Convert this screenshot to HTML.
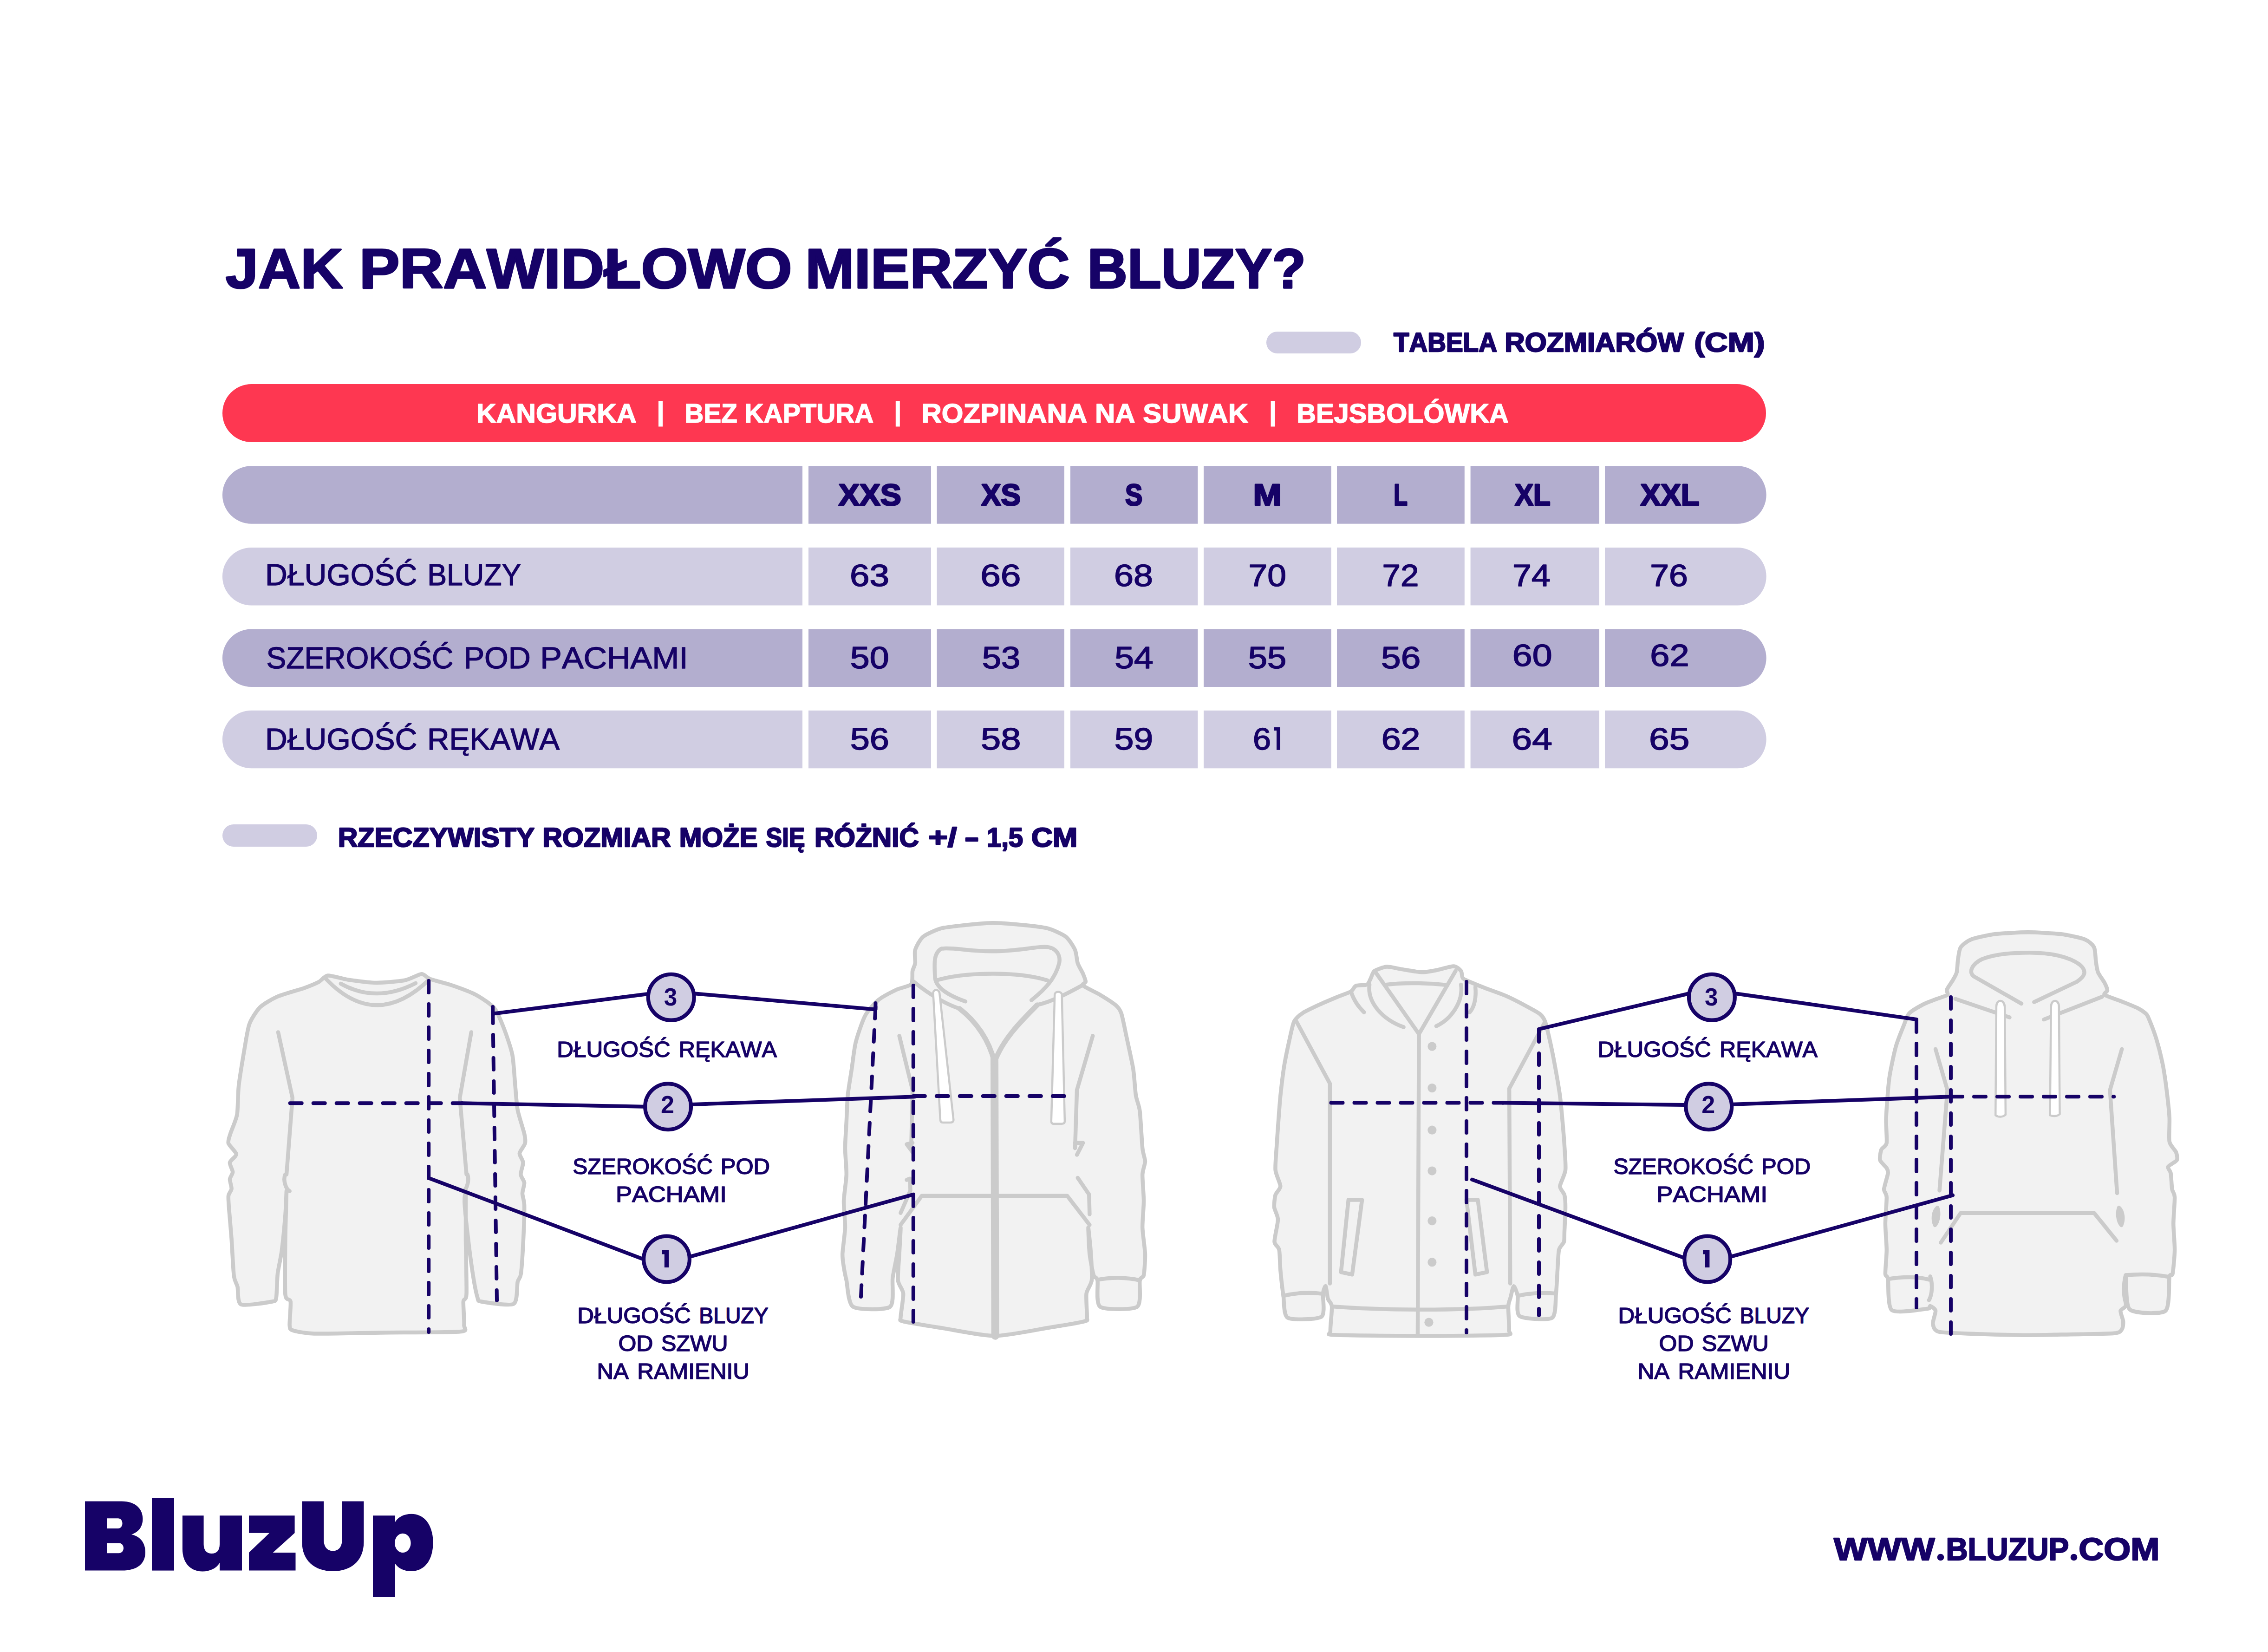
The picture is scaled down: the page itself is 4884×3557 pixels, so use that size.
<!DOCTYPE html>
<html><head><meta charset="utf-8"><title>Jak prawidłowo mierzyć bluzy</title>
<style>
html,body{margin:0;padding:0;background:#fff;}
body{width:4884px;height:3557px;overflow:hidden;}
svg{display:block;}
text{font-family:"Liberation Sans",sans-serif;font-kerning:none;}
</style></head><body>
<svg width="4884" height="3557" viewBox="0 0 4884 3557">
<rect width="4884" height="3557" fill="#ffffff"/>
<text x="485.84" y="620.25" font-size="121.37" textLength="252.58" lengthAdjust="spacingAndGlyphs" fill="#160267" font-weight="bold" stroke="#160267" stroke-width="3.50" stroke-linejoin="round">JAK</text>
<text x="773.65" y="620.25" font-size="121.37" textLength="932.06" lengthAdjust="spacingAndGlyphs" fill="#160267" font-weight="bold" stroke="#160267" stroke-width="3.50" stroke-linejoin="round">PRAWIDŁOWO</text>
<text x="1734.29" y="620.25" font-size="121.37" textLength="569.42" lengthAdjust="spacingAndGlyphs" fill="#160267" font-weight="bold" stroke="#160267" stroke-width="3.50" stroke-linejoin="round">MIERZYĆ</text>
<text x="2341.77" y="620.25" font-size="121.37" textLength="470.35" lengthAdjust="spacingAndGlyphs" fill="#160267" font-weight="bold" stroke="#160267" stroke-width="3.50" stroke-linejoin="round">BLUZY?</text>
<rect x="2727" y="714" width="204" height="47" rx="23.5" fill="#d0cde2"/>
<text x="3001.03" y="757.25" font-size="57.12" textLength="222.87" lengthAdjust="spacingAndGlyphs" fill="#160267" font-weight="bold" stroke="#160267" stroke-width="2.50" stroke-linejoin="round">TABELA</text>
<text x="3240.21" y="757.25" font-size="57.12" textLength="386.00" lengthAdjust="spacingAndGlyphs" fill="#160267" font-weight="bold" stroke="#160267" stroke-width="2.50" stroke-linejoin="round">ROZMIARÓW</text>
<text x="3648.23" y="757.25" font-size="57.12" textLength="152.44" lengthAdjust="spacingAndGlyphs" fill="#160267" font-weight="bold" stroke="#160267" stroke-width="2.50" stroke-linejoin="round">(CM)</text>
<rect x="479" y="827" width="3324" height="125" rx="62.5" fill="#fe3751"/>
<text x="1025.90" y="910.05" font-size="57.41" textLength="344.71" lengthAdjust="spacingAndGlyphs" fill="#ffffff" font-weight="bold" stroke="#ffffff" stroke-width="1.50" stroke-linejoin="round">KANGURKA</text>
<text x="1474.15" y="910.05" font-size="57.41" textLength="407.20" lengthAdjust="spacingAndGlyphs" fill="#ffffff" font-weight="bold" stroke="#ffffff" stroke-width="1.50" stroke-linejoin="round">BEZ KAPTURA</text>
<text x="1984.54" y="910.05" font-size="57.41" textLength="703.47" lengthAdjust="spacingAndGlyphs" fill="#ffffff" font-weight="bold" stroke="#ffffff" stroke-width="1.50" stroke-linejoin="round">ROZPINANA NA SUWAK</text>
<text x="2792.18" y="910.05" font-size="57.41" textLength="456.60" lengthAdjust="spacingAndGlyphs" fill="#ffffff" font-weight="bold" stroke="#ffffff" stroke-width="1.50" stroke-linejoin="round">BEJSBOLÓWKA</text>
<rect x="1418.0" y="864" width="9" height="54.5" fill="#ffffff"/>
<rect x="1928.8" y="864" width="9" height="54.5" fill="#ffffff"/>
<rect x="2736.6" y="864" width="9" height="54.5" fill="#ffffff"/>
<path d="M541.2 1003.2 H1728 V1127.7 H541.2 A62.25 62.25 0 0 1 541.2 1003.2 Z" fill="#b3aecf"/>
<rect x="1741.0" y="1003.2" width="264.0" height="124.5" fill="#b3aecf"/>
<rect x="2017.5" y="1003.2" width="274.5" height="124.5" fill="#b3aecf"/>
<rect x="2305.0" y="1003.2" width="274.4" height="124.5" fill="#b3aecf"/>
<rect x="2592.0" y="1003.2" width="274.7" height="124.5" fill="#b3aecf"/>
<rect x="2879.0" y="1003.2" width="274.8" height="124.5" fill="#b3aecf"/>
<rect x="3166.6" y="1003.2" width="277.4" height="124.5" fill="#b3aecf"/>
<path d="M3456.0 1003.2 H3741.4 A62.25 62.25 0 0 1 3741.4 1127.7 H3456.0 Z" fill="#b3aecf"/>
<path d="M541.2 1178.9 H1728 V1303.4 H541.2 A62.25 62.25 0 0 1 541.2 1178.9 Z" fill="#d0cde2"/>
<rect x="1741.0" y="1178.9" width="264.0" height="124.5" fill="#d0cde2"/>
<rect x="2017.5" y="1178.9" width="274.5" height="124.5" fill="#d0cde2"/>
<rect x="2305.0" y="1178.9" width="274.4" height="124.5" fill="#d0cde2"/>
<rect x="2592.0" y="1178.9" width="274.7" height="124.5" fill="#d0cde2"/>
<rect x="2879.0" y="1178.9" width="274.8" height="124.5" fill="#d0cde2"/>
<rect x="3166.6" y="1178.9" width="277.4" height="124.5" fill="#d0cde2"/>
<path d="M3456.0 1178.9 H3741.4 A62.25 62.25 0 0 1 3741.4 1303.4 H3456.0 Z" fill="#d0cde2"/>
<path d="M541.2 1354.5 H1728 V1479.0 H541.2 A62.25 62.25 0 0 1 541.2 1354.5 Z" fill="#b3aecf"/>
<rect x="1741.0" y="1354.5" width="264.0" height="124.5" fill="#b3aecf"/>
<rect x="2017.5" y="1354.5" width="274.5" height="124.5" fill="#b3aecf"/>
<rect x="2305.0" y="1354.5" width="274.4" height="124.5" fill="#b3aecf"/>
<rect x="2592.0" y="1354.5" width="274.7" height="124.5" fill="#b3aecf"/>
<rect x="2879.0" y="1354.5" width="274.8" height="124.5" fill="#b3aecf"/>
<rect x="3166.6" y="1354.5" width="277.4" height="124.5" fill="#b3aecf"/>
<path d="M3456.0 1354.5 H3741.4 A62.25 62.25 0 0 1 3741.4 1479.0 H3456.0 Z" fill="#b3aecf"/>
<path d="M541.2 1529.8 H1728 V1654.3 H541.2 A62.25 62.25 0 0 1 541.2 1529.8 Z" fill="#d0cde2"/>
<rect x="1741.0" y="1529.8" width="264.0" height="124.5" fill="#d0cde2"/>
<rect x="2017.5" y="1529.8" width="274.5" height="124.5" fill="#d0cde2"/>
<rect x="2305.0" y="1529.8" width="274.4" height="124.5" fill="#d0cde2"/>
<rect x="2592.0" y="1529.8" width="274.7" height="124.5" fill="#d0cde2"/>
<rect x="2879.0" y="1529.8" width="274.8" height="124.5" fill="#d0cde2"/>
<rect x="3166.6" y="1529.8" width="277.4" height="124.5" fill="#d0cde2"/>
<path d="M3456.0 1529.8 H3741.4 A62.25 62.25 0 0 1 3741.4 1654.3 H3456.0 Z" fill="#d0cde2"/>
<text x="1805.71" y="1087.70" font-size="64.83" textLength="135.13" lengthAdjust="spacingAndGlyphs" fill="#160267" font-weight="bold" stroke="#160267" stroke-width="3.00" stroke-linejoin="round">XXS</text>
<text x="2112.94" y="1087.70" font-size="64.83" textLength="85.05" lengthAdjust="spacingAndGlyphs" fill="#160267" font-weight="bold" stroke="#160267" stroke-width="3.00" stroke-linejoin="round">XS</text>
<text x="2422.89" y="1087.70" font-size="64.83" textLength="37.30" lengthAdjust="spacingAndGlyphs" fill="#160267" font-weight="bold" stroke="#160267" stroke-width="3.00" stroke-linejoin="round">S</text>
<text x="2698.55" y="1087.70" font-size="64.83" textLength="61.59" lengthAdjust="spacingAndGlyphs" fill="#160267" font-weight="bold" stroke="#160267" stroke-width="3.00" stroke-linejoin="round">M</text>
<text x="3001.24" y="1087.70" font-size="64.83" textLength="29.76" lengthAdjust="spacingAndGlyphs" fill="#160267" font-weight="bold" stroke="#160267" stroke-width="3.00" stroke-linejoin="round">L</text>
<text x="3261.97" y="1087.70" font-size="64.83" textLength="76.88" lengthAdjust="spacingAndGlyphs" fill="#160267" font-weight="bold" stroke="#160267" stroke-width="3.00" stroke-linejoin="round">XL</text>
<text x="3532.63" y="1087.70" font-size="64.83" textLength="126.88" lengthAdjust="spacingAndGlyphs" fill="#160267" font-weight="bold" stroke="#160267" stroke-width="3.00" stroke-linejoin="round">XXL</text>
<text x="570.92" y="1259.85" font-size="64.97" textLength="327.45" lengthAdjust="spacingAndGlyphs" fill="#160267" font-weight="normal" stroke="#160267" stroke-width="1.30" stroke-linejoin="round">DŁUGOŚĆ</text>
<text x="920.21" y="1259.85" font-size="64.97" textLength="202.12" lengthAdjust="spacingAndGlyphs" fill="#160267" font-weight="normal" stroke="#160267" stroke-width="1.30" stroke-linejoin="round">BLUZY</text>
<text x="573.44" y="1438.95" font-size="64.97" textLength="402.86" lengthAdjust="spacingAndGlyphs" fill="#160267" font-weight="normal" stroke="#160267" stroke-width="1.30" stroke-linejoin="round">SZEROKOŚĆ</text>
<text x="998.70" y="1438.95" font-size="64.97" textLength="144.03" lengthAdjust="spacingAndGlyphs" fill="#160267" font-weight="normal" stroke="#160267" stroke-width="1.30" stroke-linejoin="round">POD</text>
<text x="1163.32" y="1438.95" font-size="64.97" textLength="318.49" lengthAdjust="spacingAndGlyphs" fill="#160267" font-weight="normal" stroke="#160267" stroke-width="1.30" stroke-linejoin="round">PACHAMI</text>
<text x="570.92" y="1613.95" font-size="64.97" textLength="327.45" lengthAdjust="spacingAndGlyphs" fill="#160267" font-weight="normal" stroke="#160267" stroke-width="1.30" stroke-linejoin="round">DŁUGOŚĆ</text>
<text x="919.95" y="1613.95" font-size="64.97" textLength="285.23" lengthAdjust="spacingAndGlyphs" fill="#160267" font-weight="normal" stroke="#160267" stroke-width="1.30" stroke-linejoin="round">RĘKAWA</text>
<text x="1829.92" y="1262.20" font-size="67.44" textLength="85.04" lengthAdjust="spacingAndGlyphs" fill="#160267" font-weight="normal" stroke="#160267" stroke-width="1.60" stroke-linejoin="round">63</text>
<text x="2111.21" y="1262.20" font-size="67.44" textLength="87.34" lengthAdjust="spacingAndGlyphs" fill="#160267" font-weight="normal" stroke="#160267" stroke-width="1.60" stroke-linejoin="round">66</text>
<text x="2398.97" y="1262.20" font-size="67.44" textLength="83.91" lengthAdjust="spacingAndGlyphs" fill="#160267" font-weight="normal" stroke="#160267" stroke-width="1.60" stroke-linejoin="round">68</text>
<text x="2688.55" y="1262.20" font-size="67.44" textLength="81.41" lengthAdjust="spacingAndGlyphs" fill="#160267" font-weight="normal" stroke="#160267" stroke-width="1.60" stroke-linejoin="round">70</text>
<text x="2976.57" y="1262.20" font-size="67.44" textLength="78.79" lengthAdjust="spacingAndGlyphs" fill="#160267" font-weight="normal" stroke="#160267" stroke-width="1.60" stroke-linejoin="round">72</text>
<text x="3257.03" y="1262.20" font-size="67.44" textLength="81.83" lengthAdjust="spacingAndGlyphs" fill="#160267" font-weight="normal" stroke="#160267" stroke-width="1.60" stroke-linejoin="round">74</text>
<text x="3553.34" y="1262.20" font-size="67.44" textLength="81.58" lengthAdjust="spacingAndGlyphs" fill="#160267" font-weight="normal" stroke="#160267" stroke-width="1.60" stroke-linejoin="round">76</text>
<text x="1830.79" y="1438.70" font-size="67.44" textLength="83.76" lengthAdjust="spacingAndGlyphs" fill="#160267" font-weight="normal" stroke="#160267" stroke-width="1.60" stroke-linejoin="round">50</text>
<text x="2114.83" y="1438.70" font-size="67.44" textLength="82.53" lengthAdjust="spacingAndGlyphs" fill="#160267" font-weight="normal" stroke="#160267" stroke-width="1.60" stroke-linejoin="round">53</text>
<text x="2400.29" y="1438.70" font-size="67.44" textLength="83.51" lengthAdjust="spacingAndGlyphs" fill="#160267" font-weight="normal" stroke="#160267" stroke-width="1.60" stroke-linejoin="round">54</text>
<text x="2687.83" y="1438.70" font-size="67.44" textLength="82.48" lengthAdjust="spacingAndGlyphs" fill="#160267" font-weight="normal" stroke="#160267" stroke-width="1.60" stroke-linejoin="round">55</text>
<text x="2974.13" y="1438.70" font-size="67.44" textLength="85.24" lengthAdjust="spacingAndGlyphs" fill="#160267" font-weight="normal" stroke="#160267" stroke-width="1.60" stroke-linejoin="round">56</text>
<text x="3256.89" y="1434.20" font-size="67.44" textLength="85.72" lengthAdjust="spacingAndGlyphs" fill="#160267" font-weight="normal" stroke="#160267" stroke-width="1.60" stroke-linejoin="round">60</text>
<text x="3553.25" y="1434.20" font-size="67.44" textLength="84.37" lengthAdjust="spacingAndGlyphs" fill="#160267" font-weight="normal" stroke="#160267" stroke-width="1.60" stroke-linejoin="round">62</text>
<text x="1830.77" y="1613.70" font-size="67.44" textLength="84.15" lengthAdjust="spacingAndGlyphs" fill="#160267" font-weight="normal" stroke="#160267" stroke-width="1.60" stroke-linejoin="round">56</text>
<text x="2112.09" y="1613.70" font-size="67.44" textLength="86.38" lengthAdjust="spacingAndGlyphs" fill="#160267" font-weight="normal" stroke="#160267" stroke-width="1.60" stroke-linejoin="round">58</text>
<text x="2399.80" y="1613.70" font-size="67.44" textLength="83.35" lengthAdjust="spacingAndGlyphs" fill="#160267" font-weight="normal" stroke="#160267" stroke-width="1.60" stroke-linejoin="round">59</text>
<text x="2698.03" y="1613.70" font-size="67.44" textLength="39.05" lengthAdjust="spacingAndGlyphs" fill="#160267" font-weight="normal" stroke="#160267" stroke-width="1.60" stroke-linejoin="round">6</text>
<text x="2974.67" y="1613.70" font-size="67.44" textLength="83.93" lengthAdjust="spacingAndGlyphs" fill="#160267" font-weight="normal" stroke="#160267" stroke-width="1.60" stroke-linejoin="round">62</text>
<text x="3255.52" y="1613.70" font-size="67.44" textLength="87.28" lengthAdjust="spacingAndGlyphs" fill="#160267" font-weight="normal" stroke="#160267" stroke-width="1.60" stroke-linejoin="round">64</text>
<text x="3551.01" y="1613.70" font-size="67.44" textLength="87.39" lengthAdjust="spacingAndGlyphs" fill="#160267" font-weight="normal" stroke="#160267" stroke-width="1.60" stroke-linejoin="round">65</text>
<path d="M2743 1566.1 H2757 V1614.8 H2749 V1573 H2743 Z" fill="#160267"/>
<rect x="479" y="1775" width="204" height="48" rx="24" fill="#d0cde2"/>
<text x="727.70" y="1823.25" font-size="56.69" textLength="423.51" lengthAdjust="spacingAndGlyphs" fill="#160267" font-weight="bold" stroke="#160267" stroke-width="2.50" stroke-linejoin="round">RZECZYWISTY</text>
<text x="1168.29" y="1823.25" font-size="56.69" textLength="276.48" lengthAdjust="spacingAndGlyphs" fill="#160267" font-weight="bold" stroke="#160267" stroke-width="2.50" stroke-linejoin="round">ROZMIAR</text>
<text x="1462.85" y="1823.25" font-size="56.69" textLength="168.58" lengthAdjust="spacingAndGlyphs" fill="#160267" font-weight="bold" stroke="#160267" stroke-width="2.50" stroke-linejoin="round">MOŻE</text>
<text x="1649.55" y="1823.25" font-size="56.69" textLength="83.73" lengthAdjust="spacingAndGlyphs" fill="#160267" font-weight="bold" stroke="#160267" stroke-width="2.50" stroke-linejoin="round">SIĘ</text>
<text x="1753.92" y="1823.25" font-size="56.69" textLength="224.93" lengthAdjust="spacingAndGlyphs" fill="#160267" font-weight="bold" stroke="#160267" stroke-width="2.50" stroke-linejoin="round">RÓŻNIĆ</text>
<text x="1999.26" y="1823.25" font-size="56.69" textLength="61.39" lengthAdjust="spacingAndGlyphs" fill="#160267" font-weight="bold" stroke="#160267" stroke-width="2.50" stroke-linejoin="round">+/</text>
<text x="2076.97" y="1823.25" font-size="56.69" textLength="31.35" lengthAdjust="spacingAndGlyphs" fill="#160267" font-weight="bold" stroke="#160267" stroke-width="2.50" stroke-linejoin="round">-</text>
<text x="2124.80" y="1823.25" font-size="56.69" textLength="78.32" lengthAdjust="spacingAndGlyphs" fill="#160267" font-weight="bold" stroke="#160267" stroke-width="2.50" stroke-linejoin="round">1,5</text>
<text x="2220.83" y="1823.25" font-size="56.69" textLength="99.50" lengthAdjust="spacingAndGlyphs" fill="#160267" font-weight="bold" stroke="#160267" stroke-width="2.50" stroke-linejoin="round">CM</text>
<g transform="translate(460 2050) scale(0.514695)" stroke-linejoin="round" stroke-linecap="round">
<path d="M478 98 C492.0 96.8 536.4 111.5 560.0 115.0 C583.6 118.5 652.0 127.7 680.0 128.0 C708.0 128.3 777.8 122.2 800.0 118.0 C822.2 113.8 857.8 92.7 870.0 92.0 C882.2 91.3 889.8 106.4 905.0 112.0 C920.2 117.6 977.2 132.1 1000.0 140.0 C1022.8 147.9 1079.6 168.9 1100.0 180.0 C1120.4 191.1 1161.6 218.7 1175.0 235.0 C1188.4 251.3 1206.2 297.2 1215.0 320.0 C1223.8 342.8 1244.5 402.0 1250.0 430.0 C1255.5 458.0 1259.4 533.2 1262.0 560.0 C1264.6 586.8 1267.6 636.7 1272.0 660.0 C1276.4 683.3 1296.4 743.7 1300.0 760.0 C1303.6 776.3 1305.3 790.4 1303.0 800.0 C1300.7 809.6 1280.9 832.7 1280.0 842.0 C1279.1 851.3 1294.4 869.7 1295.0 880.0 C1295.6 890.3 1284.4 920.1 1285.0 930.0 C1285.6 939.9 1299.2 955.7 1300.0 965.0 C1300.8 974.3 1292.0 998.9 1292.0 1010.0 C1292.0 1021.1 1299.5 1037.8 1300.0 1060.0 C1300.5 1082.2 1297.6 1166.8 1296.0 1200.0 C1294.4 1233.2 1288.8 1324.0 1286.0 1345.0 C1283.2 1366.0 1275.6 1365.2 1272.0 1380.0 C1268.4 1394.8 1272.7 1462.4 1255.0 1472.0 C1237.3 1481.6 1137.6 1465.2 1120.0 1462.0 C1102.4 1458.8 1108.1 1458.1 1104.0 1445.0 C1099.9 1431.9 1089.5 1378.6 1085.0 1350.0 C1080.5 1321.4 1069.1 1235.0 1065.0 1200.0 C1060.9 1165.0 1051.2 1073.3 1050.0 1050.0 C1048.8 1026.7 1054.4 982.5 1055.0 1000.0 C1055.6 1017.5 1054.7 1149.8 1055.0 1200.0 C1055.3 1250.2 1059.2 1399.4 1058.0 1430.0 C1056.8 1460.6 1046.2 1446.8 1045.0 1462.0 C1043.8 1477.2 1049.8 1545.3 1048.0 1560.0 C1046.2 1574.7 1070.6 1584.3 1030.0 1588.0 C989.4 1591.7 771.2 1591.1 700.0 1592.0 C628.8 1592.9 463.2 1597.2 420.0 1596.0 C376.8 1594.8 341.9 1586.2 330.0 1582.0 C318.1 1577.8 318.9 1574.0 318.0 1560.0 C317.1 1546.0 324.1 1476.9 322.0 1462.0 C319.9 1447.1 302.6 1462.6 300.0 1432.0 C297.4 1401.4 299.4 1250.4 300.0 1200.0 C300.6 1149.6 305.0 1011.7 305.0 1000.0 C305.0 988.3 302.3 1070.8 300.0 1100.0 C297.7 1129.2 288.7 1221.4 285.0 1250.0 C281.3 1278.6 270.7 1322.2 268.0 1345.0 C265.3 1367.8 264.7 1431.3 262.0 1445.0 C259.3 1458.7 262.1 1458.6 245.0 1462.0 C227.8 1465.4 131.9 1481.2 115.0 1474.0 C98.1 1466.8 103.5 1413.9 100.0 1400.0 C96.5 1386.1 87.9 1378.3 85.0 1355.0 C82.1 1331.7 77.3 1232.1 75.0 1200.0 C72.7 1167.9 66.5 1101.0 65.0 1080.0 C63.5 1059.0 60.8 1030.5 62.0 1020.0 C63.2 1009.5 74.3 998.2 75.0 990.0 C75.7 981.8 67.4 958.2 68.0 950.0 C68.6 941.8 80.0 928.2 80.0 920.0 C80.0 911.8 66.2 888.8 68.0 880.0 C69.8 871.2 95.7 854.3 95.0 845.0 C94.3 835.7 64.9 809.9 62.0 800.0 C59.1 790.1 65.8 774.0 70.0 760.0 C74.2 746.0 93.9 703.3 98.0 680.0 C102.1 656.7 101.3 592.7 105.0 560.0 C108.7 527.3 124.8 430.3 130.0 400.0 C135.2 369.7 142.4 319.8 150.0 300.0 C157.6 280.2 181.0 243.4 195.0 230.0 C209.0 216.6 248.4 194.3 270.0 185.0 C291.6 175.7 360.2 157.0 380.0 150.0 C399.8 143.0 428.6 131.1 440.0 125.0 C451.4 118.9 464.0 99.2 478.0 98.0 Z" fill="#f2f2f2" stroke="#cbcbcb" stroke-width="16.51"/>
<path d="M470 112 Q680 332 905 112" fill="none" stroke="#cbcbcb" stroke-width="16.51"/>
<path d="M532 132 Q680 215 845 130" fill="none" stroke="#cbcbcb" stroke-width="16.51"/>
<path d="M270 335 L330 610 L305 930" fill="none" stroke="#cbcbcb" stroke-width="16.51"/>
<path d="M1078 335 L1030 610 L1058 930" fill="none" stroke="#cbcbcb" stroke-width="16.51"/>
<path d="M300 930 C290 950, 300 990, 318 1000" fill="none" stroke="#cbcbcb" stroke-width="16.51"/>
<path d="M1062 930 C1070 950, 1062 990, 1045 1000" fill="none" stroke="#cbcbcb" stroke-width="16.51"/>
</g>
<g transform="translate(1800 1960) scale(0.569152)" stroke-linejoin="round" stroke-linecap="round">
<path d="M285 280 C292.0 271.8 288.2 239.3 290.0 230.0 C291.8 220.7 298.8 209.3 300.0 200.0 C301.2 190.7 296.5 161.7 300.0 150.0 C303.5 138.3 318.3 109.6 330.0 100.0 C341.7 90.4 380.2 73.2 400.0 68.0 C419.8 62.8 477.2 57.3 500.0 55.0 C522.8 52.7 571.7 48.0 595.0 48.0 C618.3 48.0 676.1 52.7 700.0 55.0 C723.9 57.3 780.2 62.8 800.0 68.0 C819.8 73.2 857.8 90.4 870.0 100.0 C882.2 109.6 899.8 138.3 905.0 150.0 C910.2 161.7 911.5 189.5 915.0 200.0 C918.5 210.5 931.5 231.8 935.0 240.0 C938.5 248.2 945.0 264.8 945.0 270.0 C945.0 275.2 928.6 279.2 935.0 285.0 C941.4 290.8 985.4 311.2 1000.0 320.0 C1014.6 328.8 1050.7 351.8 1060.0 360.0 C1069.3 368.2 1075.3 376.0 1080.0 390.0 C1084.7 404.0 1094.8 455.5 1100.0 480.0 C1105.2 504.5 1120.9 574.3 1125.0 600.0 C1129.1 625.7 1132.1 681.3 1135.0 700.0 C1137.9 718.7 1147.1 736.7 1150.0 760.0 C1152.9 783.3 1157.7 877.8 1160.0 900.0 C1162.3 922.2 1170.0 938.3 1170.0 950.0 C1170.0 961.7 1160.6 982.5 1160.0 1000.0 C1159.4 1017.5 1165.0 1076.7 1165.0 1100.0 C1165.0 1123.3 1159.4 1176.7 1160.0 1200.0 C1160.6 1223.3 1169.4 1279.0 1170.0 1300.0 C1170.6 1321.0 1167.3 1368.3 1165.0 1380.0 C1162.7 1391.7 1152.9 1386.0 1150.0 1400.0 C1147.1 1414.0 1157.5 1488.3 1140.0 1500.0 C1122.5 1511.7 1017.5 1511.7 1000.0 1500.0 C982.5 1488.3 992.9 1414.0 990.0 1400.0 C987.1 1386.0 978.5 1391.7 975.0 1380.0 C971.5 1368.3 962.3 1321.0 960.0 1300.0 C957.7 1279.0 954.4 1200.0 955.0 1200.0 C955.6 1200.0 963.5 1276.7 965.0 1300.0 C966.5 1323.3 970.0 1382.5 968.0 1400.0 C966.0 1417.5 950.1 1433.7 948.0 1450.0 C945.9 1466.3 950.9 1527.8 950.0 1540.0 C949.1 1552.2 957.5 1550.3 940.0 1555.0 C922.5 1559.7 839.7 1573.6 800.0 1580.0 C760.3 1586.4 646.7 1610.0 600.0 1610.0 C553.3 1610.0 440.2 1586.4 400.0 1580.0 C359.8 1573.6 273.1 1559.7 255.0 1555.0 C236.9 1550.3 245.0 1552.2 245.0 1540.0 C245.0 1527.8 256.2 1466.3 255.0 1450.0 C253.8 1433.7 236.8 1417.5 235.0 1400.0 C233.2 1382.5 238.8 1323.3 240.0 1300.0 C241.2 1276.7 245.9 1200.0 245.0 1200.0 C244.1 1200.0 235.5 1277.8 232.0 1300.0 C228.5 1322.2 218.2 1366.7 215.0 1390.0 C211.8 1413.3 222.5 1487.2 205.0 1500.0 C187.5 1512.8 84.2 1511.7 65.0 1500.0 C45.8 1488.3 44.1 1417.5 40.0 1400.0 C35.9 1382.5 31.8 1361.7 30.0 1350.0 C28.2 1338.3 24.4 1317.5 25.0 1300.0 C25.6 1282.5 34.4 1223.3 35.0 1200.0 C35.6 1176.7 29.4 1123.3 30.0 1100.0 C30.6 1076.7 39.4 1023.3 40.0 1000.0 C40.6 976.7 35.0 923.3 35.0 900.0 C35.0 876.7 38.8 823.3 40.0 800.0 C41.2 776.7 42.7 723.3 45.0 700.0 C47.3 676.7 56.5 623.3 60.0 600.0 C63.5 576.7 69.2 523.3 75.0 500.0 C80.8 476.7 100.1 418.7 110.0 400.0 C119.9 381.3 146.0 351.7 160.0 340.0 C174.0 328.3 215.4 307.0 230.0 300.0 C244.6 293.0 278.0 288.2 285.0 280.0 Z" fill="#f2f2f2" stroke="#cbcbcb" stroke-width="14.93"/>
<path d="M490 345 C420 320, 375 290, 375 250 C372 200, 370 160, 400 145 C450 140, 500 155, 590 155 C680 155, 740 140, 790 138 C840 140, 850 175, 845 200 C830 260, 790 300, 740 340" fill="none" stroke="#cbcbcb" stroke-width="14.93"/>
<path d="M380 265 C450 245, 520 240, 595 240 C680 240, 750 250, 800 265" fill="none" stroke="#cbcbcb" stroke-width="14.93"/>
<path d="M245 1190 L325 1080 L875 1080 L960 1190" fill="none" stroke="#cbcbcb" stroke-width="14.93"/>
<path d="M240 475 L290 680 L285 900" fill="none" stroke="#cbcbcb" stroke-width="14.93"/>
<path d="M972 475 L912 680 L905 900" fill="none" stroke="#cbcbcb" stroke-width="14.93"/>
<path d="M290 880 L268 885 L290 915" fill="none" stroke="#cbcbcb" stroke-width="14.93"/>
<path d="M905 880 L935 880 L912 925" fill="none" stroke="#cbcbcb" stroke-width="14.93"/>
<path d="M268 1020 L280 1015 L282 1060 L245 1145" fill="none" stroke="#cbcbcb" stroke-width="14.93"/>
<path d="M915 1012 L958 1075 L960 1150" fill="none" stroke="#cbcbcb" stroke-width="14.93"/>
<path d="M990 1398 C1040 1388, 1100 1388, 1150 1400" fill="none" stroke="#cbcbcb" stroke-width="14.93"/>
<path d="M292 268 C330 300, 400 350, 468 372" fill="none" stroke="#cbcbcb" stroke-width="14.93"/>
<path d="M928 286 C880 312, 820 345, 762 358" fill="none" stroke="#cbcbcb" stroke-width="14.93"/>
<path d="M368 312 C370 298, 388 298, 392 312 L445 792 C446 800, 440 803, 432 803 L405 803 C398 803, 395 798, 395 790 Z" fill="#ffffff" stroke="#cbcbcb" stroke-width="7.91"/>
<path d="M828 318 C830 305, 852 305, 855 318 L866 798 C866 806, 860 808, 852 808 L825 808 C818 808, 815 804, 815 798 Z" fill="#ffffff" stroke="#cbcbcb" stroke-width="7.91"/>
</g>
<g transform="translate(1800 1960) scale(0.569152)"><path d="M600 560 L603 1610" stroke="#cbcbcb" stroke-width="29.9" stroke-linecap="round" fill="none"/><path d="M468 372 C530 420, 580 490, 600 575 M762 358 C700 420, 630 490, 600 575" stroke="#cbcbcb" stroke-width="19.3" stroke-linecap="round" fill="none"/></g>
<g transform="translate(2720 2040) scale(0.532765)" stroke-linejoin="round" stroke-linecap="round">
<path d="M450 95 C457.6 89.5 487.2 78.8 500.0 78.0 C512.8 77.2 543.7 85.4 560.0 88.0 C576.3 90.6 623.7 99.5 640.0 100.0 C656.3 100.5 684.8 94.8 700.0 92.0 C715.2 89.2 758.3 75.7 770.0 76.0 C781.7 76.3 795.6 89.3 800.0 95.0 C804.4 100.7 802.2 119.2 808.0 125.0 C813.8 130.8 839.3 140.3 850.0 145.0 C860.7 149.7 884.8 159.2 900.0 165.0 C915.2 170.8 961.3 186.8 980.0 195.0 C998.7 203.2 1043.7 226.2 1060.0 235.0 C1076.3 243.8 1110.7 262.4 1120.0 270.0 C1129.3 277.6 1135.3 287.2 1140.0 300.0 C1144.7 312.8 1155.3 359.0 1160.0 380.0 C1164.7 401.0 1175.3 454.3 1180.0 480.0 C1184.7 505.7 1196.5 574.3 1200.0 600.0 C1203.5 625.7 1207.9 676.7 1210.0 700.0 C1212.1 723.3 1216.6 776.7 1218.0 800.0 C1219.4 823.3 1224.1 880.8 1222.0 900.0 C1219.9 919.2 1200.5 953.3 1200.0 965.0 C1199.5 976.7 1215.4 990.1 1218.0 1000.0 C1220.6 1009.9 1222.0 1032.5 1222.0 1050.0 C1222.0 1067.5 1218.7 1133.7 1218.0 1150.0 C1217.3 1166.3 1218.6 1181.6 1216.0 1190.0 C1213.4 1198.4 1199.0 1208.7 1196.0 1222.0 C1193.0 1235.3 1191.4 1283.3 1190.0 1304.0 C1188.6 1324.7 1186.6 1376.5 1184.0 1399.0 C1181.4 1421.5 1185.2 1486.4 1168.0 1497.0 C1150.8 1507.6 1053.2 1500.4 1037.0 1490.0 C1020.8 1479.6 1031.8 1422.1 1029.0 1408.0 C1026.2 1393.9 1016.4 1368.2 1013.0 1369.0 C1009.6 1369.8 1002.6 1405.4 1000.0 1415.0 C997.4 1424.6 991.7 1435.6 991.0 1451.0 C990.3 1466.4 995.9 1533.6 994.0 1547.0 C992.1 1560.4 1017.5 1563.3 975.0 1566.0 C932.5 1568.7 709.9 1570.0 630.0 1570.0 C550.1 1570.0 331.8 1568.3 290.0 1566.0 C248.2 1563.7 273.4 1563.4 272.0 1550.0 C270.6 1536.6 279.2 1466.2 278.0 1451.0 C276.8 1435.8 264.9 1429.6 262.0 1420.0 C259.1 1410.4 255.3 1371.6 253.0 1369.0 C250.7 1366.4 244.0 1383.7 242.0 1398.0 C240.0 1412.3 252.6 1480.5 236.0 1492.0 C219.4 1503.5 118.0 1506.8 100.0 1497.0 C82.0 1487.2 85.5 1430.5 82.0 1408.0 C78.5 1385.5 72.0 1325.7 70.0 1304.0 C68.0 1282.3 67.8 1235.4 65.0 1222.0 C62.2 1208.6 46.6 1203.2 46.0 1189.0 C45.4 1174.8 60.1 1116.2 60.0 1100.0 C59.9 1083.8 46.2 1061.7 45.0 1050.0 C43.8 1038.3 47.1 1009.9 50.0 1000.0 C52.9 990.1 70.0 976.7 70.0 965.0 C70.0 953.3 51.8 919.2 50.0 900.0 C48.2 880.8 53.6 823.3 55.0 800.0 C56.4 776.7 60.2 723.3 62.0 700.0 C63.8 676.7 67.3 625.7 70.0 600.0 C72.7 574.3 80.9 505.7 85.0 480.0 C89.1 454.3 100.3 401.0 105.0 380.0 C109.7 359.0 118.6 313.4 125.0 300.0 C131.4 286.6 147.8 273.2 160.0 265.0 C172.2 256.8 213.7 237.6 230.0 230.0 C246.3 222.4 285.4 206.1 300.0 200.0 C314.6 193.9 346.2 183.2 355.0 178.0 C363.8 172.8 367.4 158.3 375.0 155.0 C382.6 151.7 413.0 153.5 420.0 150.0 C427.0 146.5 431.5 131.4 435.0 125.0 C438.5 118.6 442.4 100.5 450.0 95.0 Z" fill="#f2f2f2" stroke="#cbcbcb" stroke-width="15.95"/>
<path d="M458 105 L630 350 L778 95" fill="none" stroke="#cbcbcb" stroke-width="15.95"/>
<path d="M500 150 C580 140, 680 145, 745 152" fill="none" stroke="#cbcbcb" stroke-width="15.95"/>
<path d="M430 150 C420 220, 480 290, 568 322" fill="none" stroke="#cbcbcb" stroke-width="15.95"/>
<path d="M800 150 C810 220, 760 290, 700 318" fill="none" stroke="#cbcbcb" stroke-width="15.95"/>
<path d="M355 178 C365 210, 385 240, 408 262" fill="none" stroke="#cbcbcb" stroke-width="15.95"/>
<path d="M858 160 C862 200, 855 240, 835 262" fill="none" stroke="#cbcbcb" stroke-width="15.95"/>
<path d="M630 352 L625 1568" fill="none" stroke="#cbcbcb" stroke-width="15.95"/>
<path d="M135 300 L270 550 L270 1358" fill="none" stroke="#cbcbcb" stroke-width="15.95"/>
<path d="M1140 300 L995 570 L999 1358" fill="none" stroke="#cbcbcb" stroke-width="15.95"/>
<path d="M278 1451 C500 1468, 800 1468, 991 1451" fill="none" stroke="#cbcbcb" stroke-width="15.95"/>
<path d="M82 1408 C130 1396, 190 1392, 242 1400" fill="none" stroke="#cbcbcb" stroke-width="15.95"/>
<path d="M1029 1408 C1080 1396, 1140 1394, 1184 1399" fill="none" stroke="#cbcbcb" stroke-width="15.95"/>
<path d="M345 1020 L400 1020 L360 1322 L315 1312 Z" fill="none" stroke="#cbcbcb" stroke-width="15.95"/>
<path d="M822 1020 L868 1020 L905 1312 L858 1322 Z" fill="none" stroke="#cbcbcb" stroke-width="15.95"/>
</g>
<g transform="translate(2720 2040) scale(0.532765)"><circle cx="683" cy="400" r="18" fill="#cbcbcb"/><circle cx="683" cy="568" r="18" fill="#cbcbcb"/><circle cx="683" cy="738" r="18" fill="#cbcbcb"/><circle cx="683" cy="903" r="18" fill="#cbcbcb"/><circle cx="683" cy="1105" r="18" fill="#cbcbcb"/><circle cx="683" cy="1272" r="18" fill="#cbcbcb"/><circle cx="670" cy="1515" r="18" fill="#cbcbcb"/></g>
<g transform="translate(4040 1980) scale(0.569152)" stroke-linejoin="round" stroke-linecap="round">
<path d="M270 285 C274.4 280.9 265.7 271.4 268.0 265.0 C270.3 258.6 285.7 237.6 290.0 230.0 C294.3 222.4 302.7 209.3 305.0 200.0 C307.3 190.7 308.2 161.1 310.0 150.0 C311.8 138.9 314.2 113.8 320.0 105.0 C325.8 96.2 344.8 80.8 360.0 75.0 C375.2 69.2 424.9 58.1 450.0 55.0 C475.1 51.9 545.8 48.0 575.0 48.0 C604.2 48.0 674.9 51.9 700.0 55.0 C725.1 58.1 775.4 69.2 790.0 75.0 C804.6 80.8 820.1 95.1 825.0 105.0 C829.9 114.9 830.2 148.9 832.0 160.0 C833.8 171.1 836.1 190.7 840.0 200.0 C843.9 209.3 860.9 232.1 865.0 240.0 C869.1 247.9 875.0 262.8 875.0 268.0 C875.0 273.2 858.6 280.1 865.0 285.0 C871.4 289.9 915.4 304.2 930.0 310.0 C944.6 315.8 979.5 329.8 990.0 335.0 C1000.5 340.2 1015.3 350.9 1020.0 355.0 C1024.7 359.1 1025.3 358.9 1030.0 370.0 C1034.7 381.1 1053.6 429.0 1060.0 450.0 C1066.4 471.0 1080.3 526.7 1085.0 550.0 C1089.7 573.3 1097.1 626.7 1100.0 650.0 C1102.9 673.3 1108.8 727.8 1110.0 750.0 C1111.2 772.2 1107.1 824.8 1110.0 840.0 C1112.9 855.2 1131.7 871.8 1135.0 880.0 C1138.3 888.2 1141.5 903.6 1138.0 910.0 C1134.5 916.4 1107.7 929.2 1105.0 935.0 C1102.3 940.8 1113.2 950.1 1115.0 960.0 C1116.8 969.9 1118.2 1009.5 1120.0 1020.0 C1121.8 1030.5 1129.4 1034.8 1130.0 1050.0 C1130.6 1065.2 1125.0 1126.7 1125.0 1150.0 C1125.0 1173.3 1130.3 1227.8 1130.0 1250.0 C1129.7 1272.2 1124.3 1328.1 1122.0 1340.0 C1119.7 1351.9 1113.2 1335.7 1110.0 1352.0 C1106.8 1368.3 1112.5 1465.7 1095.0 1480.0 C1077.5 1494.3 977.5 1490.4 960.0 1475.0 C942.5 1459.6 947.3 1356.8 945.0 1348.0 C942.7 1339.2 940.0 1386.9 940.0 1400.0 C940.0 1413.1 946.8 1450.7 945.0 1460.0 C943.2 1469.3 926.2 1473.0 925.0 1480.0 C923.8 1487.0 934.4 1511.8 935.0 1520.0 C935.6 1528.2 934.1 1544.8 930.0 1550.0 C925.9 1555.2 926.8 1562.7 900.0 1565.0 C873.2 1567.3 737.9 1569.2 700.0 1570.0 C662.1 1570.8 610.0 1572.2 575.0 1572.0 C540.0 1571.8 439.1 1569.4 400.0 1568.0 C360.9 1566.6 261.6 1564.4 240.0 1560.0 C218.4 1555.6 216.8 1539.3 215.0 1530.0 C213.2 1520.7 226.2 1487.9 225.0 1480.0 C223.8 1472.1 208.5 1462.9 205.0 1462.0 C201.5 1461.1 211.9 1470.1 195.0 1472.0 C178.1 1473.9 77.5 1491.1 60.0 1478.0 C42.5 1464.9 47.9 1376.1 45.0 1360.0 C42.1 1343.9 35.6 1352.8 35.0 1340.0 C34.4 1327.2 40.0 1272.2 40.0 1250.0 C40.0 1227.8 35.0 1173.3 35.0 1150.0 C35.0 1126.7 40.6 1065.2 40.0 1050.0 C39.4 1034.8 29.4 1030.5 30.0 1020.0 C30.6 1009.5 43.8 969.3 45.0 960.0 C46.2 950.7 43.5 945.8 40.0 940.0 C36.5 934.2 17.3 918.2 15.0 910.0 C12.7 901.8 17.1 877.6 20.0 870.0 C22.9 862.4 37.9 859.0 40.0 845.0 C42.1 831.0 36.8 778.6 38.0 750.0 C39.2 721.4 45.7 631.5 50.0 600.0 C54.3 568.5 68.6 503.3 75.0 480.0 C81.4 456.7 99.2 414.6 105.0 400.0 C110.8 385.4 116.2 364.3 125.0 355.0 C133.8 345.7 167.8 326.4 180.0 320.0 C192.2 313.6 219.5 304.1 230.0 300.0 C240.5 295.9 265.6 289.1 270.0 285.0 Z" fill="#f2f2f2" stroke="#cbcbcb" stroke-width="14.93"/>
<path d="M550 318 L370 215 C350 200, 360 170, 400 150 C450 130, 520 125, 580 125 C660 125, 730 140, 770 170 C800 195, 790 215, 760 235 L598 312" fill="none" stroke="#cbcbcb" stroke-width="14.93"/>
<path d="M300 300 L505 370" fill="none" stroke="#cbcbcb" stroke-width="14.93"/>
<path d="M635 378 L855 292" fill="none" stroke="#cbcbcb" stroke-width="14.93"/>
<path d="M225 490 L270 645 L240 1025" fill="none" stroke="#cbcbcb" stroke-width="14.93"/>
<path d="M930 490 L885 645 L912 1035" fill="none" stroke="#cbcbcb" stroke-width="14.93"/>
<path d="M245 1222 L320 1110 L825 1110 L910 1215" fill="none" stroke="#cbcbcb" stroke-width="14.93"/>
<path d="M45 1360 C100 1350, 160 1350, 200 1362" fill="none" stroke="#cbcbcb" stroke-width="14.93"/>
<path d="M945 1345 C1000 1340, 1060 1342, 1110 1352" fill="none" stroke="#cbcbcb" stroke-width="14.93"/>
<path d="M205 1350 C215 1380, 212 1420, 200 1440" fill="none" stroke="#cbcbcb" stroke-width="14.93"/>
<path d="M945 1345 C935 1380, 935 1420, 945 1450" fill="none" stroke="#cbcbcb" stroke-width="14.93"/>
<path d="M232 1090 C216 1105, 214 1135, 223 1156 C236 1140, 239 1110, 232 1090 Z" fill="#cbcbcb" stroke="#cbcbcb" stroke-width="14.93"/>
<path d="M919 1090 C935 1105, 937 1135, 928 1156 C915 1140, 912 1110, 919 1090 Z" fill="#cbcbcb" stroke="#cbcbcb" stroke-width="14.93"/>
<path d="M455 330 C455 300, 485 300, 487 330 L490 738 C480 748, 462 748, 452 740 Z" fill="#ffffff" stroke="#cbcbcb" stroke-width="7.91"/>
<path d="M662 330 C662 300, 692 300, 692 330 L695 736 C685 745, 668 745, 658 740 Z" fill="#ffffff" stroke="#cbcbcb" stroke-width="7.91"/>
</g>
<line x1="923.2" y1="2112.0" x2="923.2" y2="2868.0" stroke="#160267" stroke-width="8" stroke-linecap="round" stroke-dasharray="25 25"/>
<line x1="1061.2" y1="2178.0" x2="1070.0" y2="2800.0" stroke="#160267" stroke-width="8" stroke-linecap="round" stroke-dasharray="25 25"/>
<line x1="624.7" y1="2375.3" x2="995.0" y2="2375.3" stroke="#160267" stroke-width="8" stroke-linecap="round" stroke-dasharray="25 25"/>
<line x1="1966.8" y1="2122.0" x2="1966.8" y2="2846.0" stroke="#160267" stroke-width="8" stroke-linecap="round" stroke-dasharray="25 25"/>
<line x1="1885.4" y1="2168.0" x2="1854.0" y2="2792.0" stroke="#160267" stroke-width="8" stroke-linecap="round" stroke-dasharray="25 25"/>
<line x1="1966.8" y1="2360.0" x2="2303.7" y2="2360.0" stroke="#160267" stroke-width="8" stroke-linecap="round" stroke-dasharray="25 25"/>
<line x1="3158.0" y1="2114.0" x2="3158.0" y2="2869.0" stroke="#160267" stroke-width="8" stroke-linecap="round" stroke-dasharray="25 25"/>
<line x1="3314.0" y1="2218.0" x2="3314.0" y2="2832.0" stroke="#160267" stroke-width="8" stroke-linecap="round" stroke-dasharray="25 25"/>
<line x1="2866.5" y1="2374.6" x2="3236.8" y2="2374.6" stroke="#160267" stroke-width="8" stroke-linecap="round" stroke-dasharray="25 25"/>
<line x1="4201.0" y1="2147.0" x2="4201.0" y2="2872.0" stroke="#160267" stroke-width="8" stroke-linecap="round" stroke-dasharray="25 25"/>
<line x1="4127.0" y1="2197.0" x2="4127.0" y2="2815.0" stroke="#160267" stroke-width="8" stroke-linecap="round" stroke-dasharray="25 25"/>
<line x1="4201.0" y1="2361.3" x2="4552.2" y2="2361.3" stroke="#160267" stroke-width="8" stroke-linecap="round" stroke-dasharray="25 25"/>
<polyline points="1061.2,2168.0 1061.2,2182.8 1392.0,2140.5" fill="none" stroke="#160267" stroke-width="8" stroke-linecap="round" stroke-linejoin="round"/>
<polyline points="1498.0,2139.5 1885.4,2173.4 1885.4,2160.0" fill="none" stroke="#160267" stroke-width="8" stroke-linecap="round" stroke-linejoin="round"/>
<polyline points="995.3,2375.3 1386.0,2382.8" fill="none" stroke="#160267" stroke-width="8" stroke-linecap="round" stroke-linejoin="round"/>
<polyline points="1491.0,2378.0 1970.7,2361.2" fill="none" stroke="#160267" stroke-width="8" stroke-linecap="round" stroke-linejoin="round"/>
<polyline points="923.2,2536.4 1386.0,2711.4" fill="none" stroke="#160267" stroke-width="8" stroke-linecap="round" stroke-linejoin="round"/>
<polyline points="1486.5,2705.7 1966.8,2571.8" fill="none" stroke="#160267" stroke-width="8" stroke-linecap="round" stroke-linejoin="round"/>
<polyline points="3314.0,2215.8 3636.0,2139.5" fill="none" stroke="#160267" stroke-width="8" stroke-linecap="round" stroke-linejoin="round"/>
<polyline points="3739.3,2139.5 4127.0,2195.0" fill="none" stroke="#160267" stroke-width="8" stroke-linecap="round" stroke-linejoin="round"/>
<polyline points="3236.8,2374.6 3627.0,2379.0" fill="none" stroke="#160267" stroke-width="8" stroke-linecap="round" stroke-linejoin="round"/>
<polyline points="3732.4,2377.8 4201.0,2361.3" fill="none" stroke="#160267" stroke-width="8" stroke-linecap="round" stroke-linejoin="round"/>
<polyline points="3170.0,2539.7 3627.0,2708.5" fill="none" stroke="#160267" stroke-width="8" stroke-linecap="round" stroke-linejoin="round"/>
<polyline points="3727.8,2705.7 4205.0,2573.6" fill="none" stroke="#160267" stroke-width="8" stroke-linecap="round" stroke-linejoin="round"/>
<circle cx="1445.2" cy="2147.3" r="49.4" fill="#d0cde2" stroke="#160267" stroke-width="8.2"/>
<text x="1429.82" y="2165.20" font-size="54.36" textLength="28.53" lengthAdjust="spacingAndGlyphs" fill="#160267" font-weight="bold">3</text>
<circle cx="1438.6" cy="2382.7" r="49.4" fill="#d0cde2" stroke="#160267" stroke-width="8.2"/>
<text x="1423.09" y="2396.70" font-size="54.22" textLength="28.99" lengthAdjust="spacingAndGlyphs" fill="#160267" font-weight="bold">2</text>
<circle cx="1435.5" cy="2711.0" r="49.4" fill="#d0cde2" stroke="#160267" stroke-width="8.2"/>
<path d="M1426.0 2692.1 H1440.2 V2729.0 H1430.8 V2700.5 H1426.0 Z" fill="#160267"/>
<text x="1199.25" y="2275.80" font-size="47.97" textLength="244.33" lengthAdjust="spacingAndGlyphs" fill="#160267" font-weight="normal" stroke="#160267" stroke-width="1.60" stroke-linejoin="round">DŁUGOŚĆ</text>
<text x="1461.80" y="2275.80" font-size="47.97" textLength="211.09" lengthAdjust="spacingAndGlyphs" fill="#160267" font-weight="normal" stroke="#160267" stroke-width="1.60" stroke-linejoin="round">RĘKAWA</text>
<text x="1233.22" y="2528.30" font-size="47.97" textLength="301.81" lengthAdjust="spacingAndGlyphs" fill="#160267" font-weight="normal" stroke="#160267" stroke-width="1.60" stroke-linejoin="round">SZEROKOŚĆ</text>
<text x="1551.78" y="2528.30" font-size="47.97" textLength="106.27" lengthAdjust="spacingAndGlyphs" fill="#160267" font-weight="normal" stroke="#160267" stroke-width="1.60" stroke-linejoin="round">POD</text>
<text x="1326.00" y="2588.30" font-size="47.97" textLength="238.84" lengthAdjust="spacingAndGlyphs" fill="#160267" font-weight="normal" stroke="#160267" stroke-width="1.60" stroke-linejoin="round">PACHAMI</text>
<text x="1243.35" y="2848.90" font-size="47.97" textLength="244.33" lengthAdjust="spacingAndGlyphs" fill="#160267" font-weight="normal" stroke="#160267" stroke-width="1.60" stroke-linejoin="round">DŁUGOŚĆ</text>
<text x="1505.30" y="2848.90" font-size="47.97" textLength="149.42" lengthAdjust="spacingAndGlyphs" fill="#160267" font-weight="normal" stroke="#160267" stroke-width="1.60" stroke-linejoin="round">BLUZY</text>
<text x="1331.43" y="2909.20" font-size="47.97" textLength="74.96" lengthAdjust="spacingAndGlyphs" fill="#160267" font-weight="normal" stroke="#160267" stroke-width="1.60" stroke-linejoin="round">OD</text>
<text x="1423.68" y="2909.20" font-size="47.97" textLength="143.99" lengthAdjust="spacingAndGlyphs" fill="#160267" font-weight="normal" stroke="#160267" stroke-width="1.60" stroke-linejoin="round">SZWU</text>
<text x="1285.56" y="2969.20" font-size="47.97" textLength="68.44" lengthAdjust="spacingAndGlyphs" fill="#160267" font-weight="normal" stroke="#160267" stroke-width="1.60" stroke-linejoin="round">NA</text>
<text x="1372.35" y="2969.20" font-size="47.97" textLength="241.67" lengthAdjust="spacingAndGlyphs" fill="#160267" font-weight="normal" stroke="#160267" stroke-width="1.60" stroke-linejoin="round">RAMIENIU</text>
<circle cx="3686.4" cy="2147.3" r="49.4" fill="#d0cde2" stroke="#160267" stroke-width="8.2"/>
<text x="3671.02" y="2165.20" font-size="54.36" textLength="28.53" lengthAdjust="spacingAndGlyphs" fill="#160267" font-weight="bold">3</text>
<circle cx="3679.8" cy="2382.7" r="49.4" fill="#d0cde2" stroke="#160267" stroke-width="8.2"/>
<text x="3664.29" y="2396.70" font-size="54.22" textLength="28.99" lengthAdjust="spacingAndGlyphs" fill="#160267" font-weight="bold">2</text>
<circle cx="3676.7" cy="2711.0" r="49.4" fill="#d0cde2" stroke="#160267" stroke-width="8.2"/>
<path d="M3667.2 2692.1 H3681.4 V2729.0 H3672.0 V2700.5 H3667.2 Z" fill="#160267"/>
<text x="3440.45" y="2275.80" font-size="47.97" textLength="244.33" lengthAdjust="spacingAndGlyphs" fill="#160267" font-weight="normal" stroke="#160267" stroke-width="1.60" stroke-linejoin="round">DŁUGOŚĆ</text>
<text x="3703.00" y="2275.80" font-size="47.97" textLength="211.09" lengthAdjust="spacingAndGlyphs" fill="#160267" font-weight="normal" stroke="#160267" stroke-width="1.60" stroke-linejoin="round">RĘKAWA</text>
<text x="3474.42" y="2528.30" font-size="47.97" textLength="301.81" lengthAdjust="spacingAndGlyphs" fill="#160267" font-weight="normal" stroke="#160267" stroke-width="1.60" stroke-linejoin="round">SZEROKOŚĆ</text>
<text x="3792.98" y="2528.30" font-size="47.97" textLength="106.27" lengthAdjust="spacingAndGlyphs" fill="#160267" font-weight="normal" stroke="#160267" stroke-width="1.60" stroke-linejoin="round">POD</text>
<text x="3567.20" y="2588.30" font-size="47.97" textLength="238.84" lengthAdjust="spacingAndGlyphs" fill="#160267" font-weight="normal" stroke="#160267" stroke-width="1.60" stroke-linejoin="round">PACHAMI</text>
<text x="3484.55" y="2848.90" font-size="47.97" textLength="244.33" lengthAdjust="spacingAndGlyphs" fill="#160267" font-weight="normal" stroke="#160267" stroke-width="1.60" stroke-linejoin="round">DŁUGOŚĆ</text>
<text x="3746.50" y="2848.90" font-size="47.97" textLength="149.42" lengthAdjust="spacingAndGlyphs" fill="#160267" font-weight="normal" stroke="#160267" stroke-width="1.60" stroke-linejoin="round">BLUZY</text>
<text x="3572.63" y="2909.20" font-size="47.97" textLength="74.96" lengthAdjust="spacingAndGlyphs" fill="#160267" font-weight="normal" stroke="#160267" stroke-width="1.60" stroke-linejoin="round">OD</text>
<text x="3664.88" y="2909.20" font-size="47.97" textLength="143.99" lengthAdjust="spacingAndGlyphs" fill="#160267" font-weight="normal" stroke="#160267" stroke-width="1.60" stroke-linejoin="round">SZWU</text>
<text x="3526.76" y="2969.20" font-size="47.97" textLength="68.44" lengthAdjust="spacingAndGlyphs" fill="#160267" font-weight="normal" stroke="#160267" stroke-width="1.60" stroke-linejoin="round">NA</text>
<text x="3613.55" y="2969.20" font-size="47.97" textLength="241.67" lengthAdjust="spacingAndGlyphs" fill="#160267" font-weight="normal" stroke="#160267" stroke-width="1.60" stroke-linejoin="round">RAMIENIU</text>
<g fill="#160267" fill-rule="evenodd">
<path d="M183 3232.5 H262 C293 3232.5 307.4 3250 307.4 3270 C307.4 3288 298 3299 283 3304 C302 3308 313 3322 313 3342 C313 3366 297 3381.6 262 3381.6 H183 Z
M230.2 3269.2 H254 C260 3269.2 263.5 3274 263.5 3280 C263.5 3286 260 3291 254 3291 H230.2 Z
M230.2 3322.4 H256 C262 3322.4 266 3327 266 3333.3 C266 3339.5 262 3344.2 256 3344.2 H230.2 Z"/>
<rect x="327" y="3225" width="48" height="156.6"/>
<path d="M392.9 3263.2 H438.6 V3325 C438.6 3338 445 3345 456 3345 C467 3345 473 3338 473 3325 V3263.2 H521 V3381.6 H473 V3365 C466 3377 452 3383.5 436 3383.5 C410 3383.5 392.9 3365 392.9 3335 Z"/>
<path d="M536 3263.2 H634.6 V3300.7 L587.8 3343 H636.5 V3381.6 H536 V3343 L580.3 3300.7 H536 Z"/>
<path d="M650.4 3232.5 H697.2 V3315 C697.2 3331 705 3339.3 717 3339.3 C729 3339.3 736.6 3331 736.6 3315 V3232.5 H783.4 V3320 C783.4 3360 757 3383 717 3383 C677 3383 650.4 3360 650.4 3320 Z"/>
<path d="M803 3263.2 H851 V3277 C858 3266 870 3259.8 886 3259.8 C915 3259.8 932.6 3285 932.6 3321.5 C932.6 3358 915 3383 886 3383 C870 3383 858 3377 851 3367 V3438.6 H803 Z
M850 3322.4 A17.3 20.6 0 1 0 884.6 3322.4 A17.3 20.6 0 1 0 850 3322.4 Z"/>
</g>
<text x="3949.07" y="3358.75" font-size="69.04" textLength="217.55" lengthAdjust="spacingAndGlyphs" fill="#160267" font-weight="bold" stroke="#160267" stroke-width="2.50" stroke-linejoin="round">WWW</text>
<text x="4190.38" y="3358.75" font-size="69.04" textLength="264.90" lengthAdjust="spacingAndGlyphs" fill="#160267" font-weight="bold" stroke="#160267" stroke-width="2.50" stroke-linejoin="round">BLUZUP</text>
<text x="4476.18" y="3358.75" font-size="69.04" textLength="174.37" lengthAdjust="spacingAndGlyphs" fill="#160267" font-weight="bold" stroke="#160267" stroke-width="2.50" stroke-linejoin="round">COM</text>
<circle cx="4179" cy="3353" r="7.3" fill="#160267"/><circle cx="4466" cy="3353" r="7.3" fill="#160267"/>
</svg>
</body></html>
